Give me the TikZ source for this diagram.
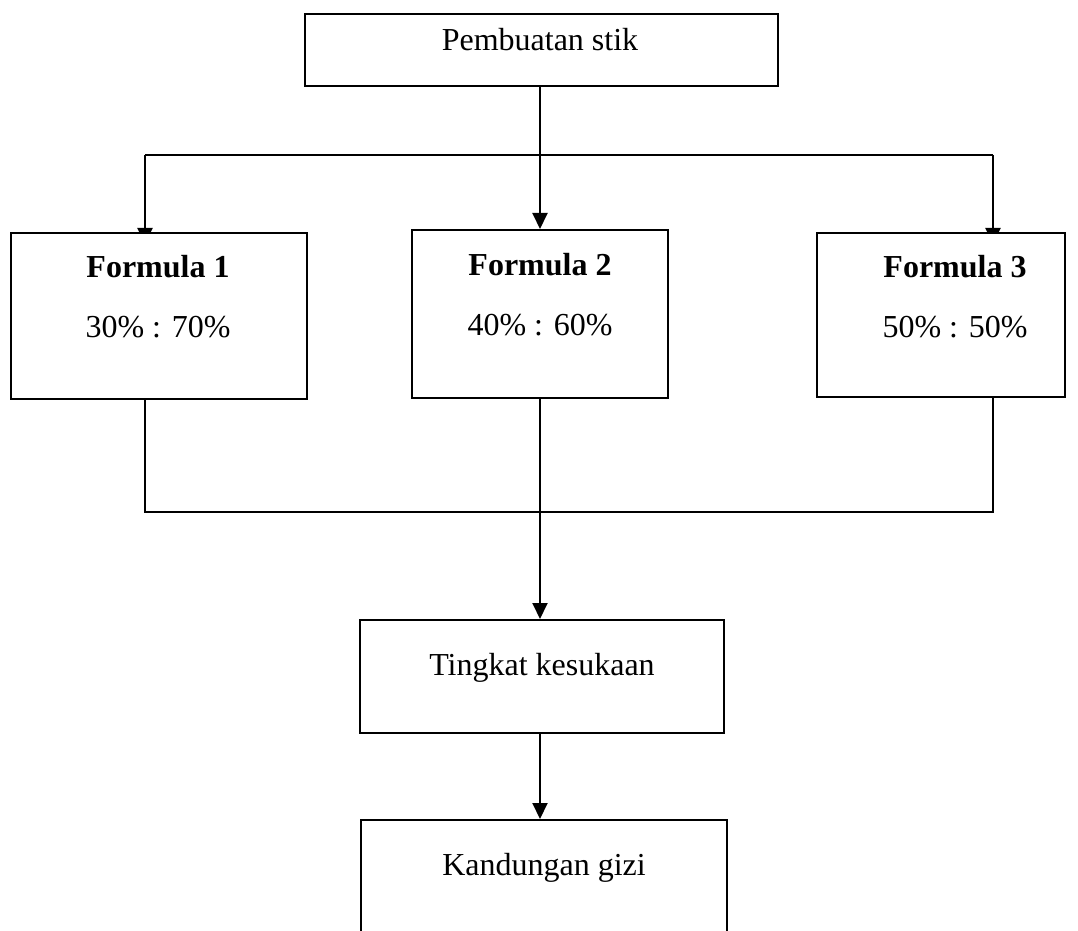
\documentclass[tikz,border=0pt]{standalone}
\usepackage{fontspec}
\setmainfont{Liberation Serif}
\usetikzlibrary{arrows.meta,backgrounds}
\begin{document}
\begin{tikzpicture}[x=0.5pt,y=-0.5pt,
  box/.style={draw,line width=1pt,fill=white,rectangle,inner sep=0pt},
  lbl/.style={font=\fontsize{16}{20}\selectfont,inner sep=0pt,anchor=center},
  blbl/.style={font=\fontsize{16}{20}\selectfont\bfseries,inner sep=0pt,anchor=center},
  conn/.style={line width=1pt},
  arr/.style={line width=1pt,-{Triangle[width=7.5pt,length=8pt]}}]
\useasboundingbox (0,0) rectangle (1078,931);
\clip (0,0) rectangle (1078,931);
% boxes
\node[box,minimum width=473*0.5pt,minimum height=72*0.5pt] (top) at (541.5,50) {};
\node[lbl] (toptxt) at (540,40) {Pembuatan stik};
\node[box,minimum width=296*0.5pt,minimum height=166*0.5pt] (f1) at (159,316) {};
\node[blbl] (f1a) at (158,267) {Formula 1};
\node[lbl] (f1b) at (158,327) {30\% : 70\%};
\node[box,minimum width=256*0.5pt,minimum height=168*0.5pt] (f2) at (540,314) {};
\node[blbl] (f2a) at (540,265) {Formula 2};
\node[lbl] (f2b) at (540,325) {40\% : 60\%};
\node[box,minimum width=248*0.5pt,minimum height=164*0.5pt] (f3) at (941,315) {};
\node[blbl] (f3a) at (955,267) {Formula 3};
\node[lbl] (f3b) at (955,327) {50\% : 50\%};
\node[box,minimum width=364*0.5pt,minimum height=113*0.5pt] (t) at (542,676.5) {};
\node[lbl] (ttxt) at (542,668) {Tingkat kesukaan};
\node[box,minimum width=366*0.5pt,minimum height=160*0.5pt] (k) at (544,900) {};
\node[lbl] (ktxt) at (544,868) {Kandungan gizi};
\coordinate (hl) at (145,155);
\coordinate (hr) at (993,155);
\coordinate (ll) at (145,512);
\coordinate (lr) at (993,512);
\coordinate (lc) at (540,512);
\begin{scope}[on background layer]
\draw[arr] (top.south -| f2.north) -- (f2.north);
\draw[conn] (hl) -- (hr);
\draw[arr] (hl) -- ([yshift=-6pt]hl |- f1.north);
\draw[arr] (hr) -- ([yshift=-6pt]hr |- f3.north);
\draw[conn] (hl |- f1.south) -- (ll) -- (lr) -- (hr |- f3.south);
\draw[conn] (f2.south) -- (lc);
\draw[arr] (lc) -- (lc |- t.north);
\draw[arr] (lc |- t.south) -- (lc |- k.north);
\end{scope}
\end{tikzpicture}
\end{document}
